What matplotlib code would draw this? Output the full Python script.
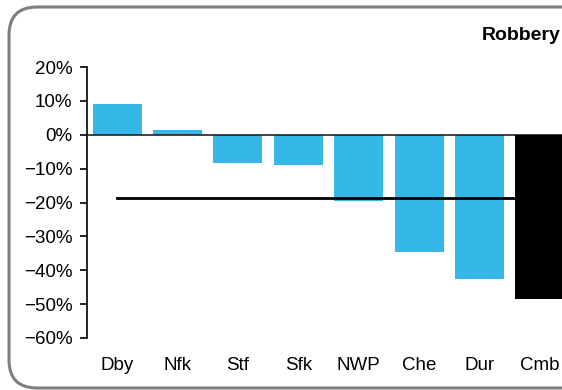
import matplotlib
matplotlib.use("Agg")
import matplotlib.pyplot as plt
from matplotlib.patches import FancyBboxPatch
from matplotlib.ticker import PercentFormatter

# datos
areas = ["Dby", "Nfk", "Stf", "Sfk", "NWP", "Che", "Dur", "Cmb"]
cambio = [9.0, 1.4, -8.3, -8.8, -19.5, -34.5, -42.6, -48.5]
colores = ["#35B8E8"] * 7 + ["#000000"]
promedio = [-18.7] * 8

plt.rcParams["font.family"] = ["Liberation Sans", "DejaVu Sans"]

fig = plt.figure(figsize=(5.62, 3.9), dpi=100)

# borde redondeado del area del grafico
borde = FancyBboxPatch((9 / 562, 2 / 390), 600 / 562, 381 / 390,
                       boxstyle="round,pad=0,rounding_size=0.05",
                       transform=fig.transFigure, facecolor="none",
                       edgecolor="#7F7F7F", linewidth=2.2,
                       mutation_aspect=562 / 390, zorder=-1)
fig.patches.append(borde)

ax = fig.add_axes([87 / 562, 52 / 390, 483 / 562, 271 / 390])
ax.set_facecolor("none")

x = range(len(areas))
ax.plot(x, promedio, color="black", linewidth=2, zorder=3)
barras = ax.bar(x, cambio, width=0.81, color=colores, zorder=2)
barras[-1].set_zorder(4)
ax.axhline(0, color="#222222", linewidth=1.2, zorder=3)

ax.set_xlim(-0.5, 7.5)
ax.set_ylim(-60, 20)
ax.set_yticks(range(-60, 21, 10))
ax.yaxis.set_major_formatter(PercentFormatter(decimals=0))
ax.set_xticks(list(x))
ax.set_xticklabels(areas)

for lado in ["top", "right", "bottom"]:
    ax.spines[lado].set_visible(False)
ax.spines["left"].set_linewidth(1.2)
ax.tick_params(axis="y", length=5, width=1.2, pad=5.5, labelsize=13.5)
ax.tick_params(axis="x", length=0, pad=14, labelsize=13.5)

fig.text(482 / 562, 1 - 35 / 390, "Robbery", ha="left", va="center",
         fontsize=14, fontweight="bold")

fig.savefig("out.png", dpi=100)
